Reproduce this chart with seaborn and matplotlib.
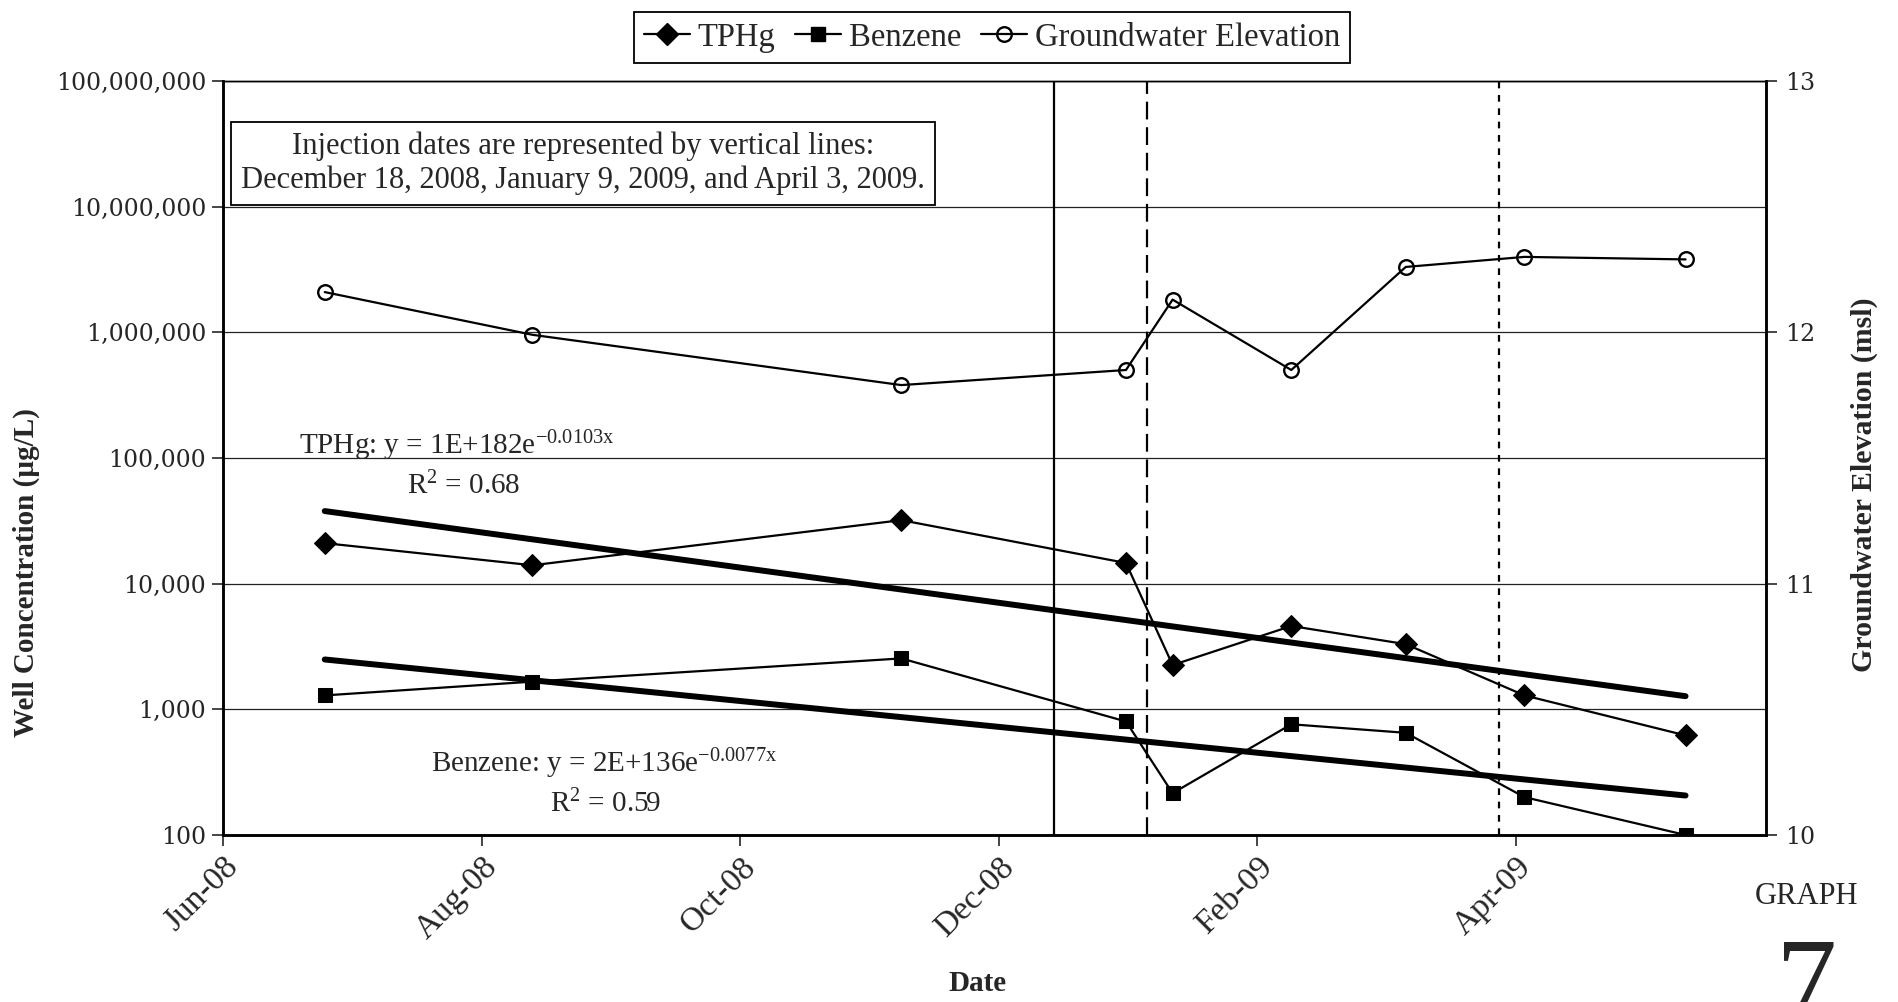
import numpy as np
import pandas as pd
import matplotlib
matplotlib.use("Agg")
import matplotlib.pyplot as plt
import matplotlib.dates as mdates
from matplotlib.lines import Line2D
from matplotlib.ticker import FuncFormatter, FixedLocator, NullLocator
from matplotlib.transforms import ScaledTranslation
import seaborn as sns

# ---------------- data ----------------
sample_dates = ["2008-06-26", "2008-08-14", "2008-11-09", "2009-01-01", "2009-01-12",
                "2009-02-09", "2009-03-08", "2009-04-05", "2009-05-13"]
tphg = [21000, 14000, 32000, 14600, 2250, 4600, 3300, 1290, 620]
benzene = [1290, 1660, 2540, 800, 215, 760, 650, 200, 100]
gw_elev = [12.16, 11.99, 11.79, 11.85, 12.13, 11.85, 12.26, 12.30, 12.29]

injection_lines = ["2008-12-15", "2009-01-06", "2009-03-30"]
injection_styles = ["solid", "dashed", "dotted"]

series_labels = ["TPHg", "Benzene", "Groundwater Elevation"]
left_ticks = [100, 1000, 10000, 100000, 1000000, 10000000, 100000000]
right_ticks = [10, 11, 12, 13]
x_tick_start = "2008-06-02"
x_tick_step_days = 61
x_tick_count = 6
x_end = "2009-06-01"

note_text = ("Injection dates are represented by vertical lines:\n"
             "December 18, 2008, January 9, 2009, and April 3, 2009.")
tphg_eq = "TPHg: y = 1E+182e$^{\\mathrm{-0.0103x}}$"
tphg_r2 = "R$^{\\mathrm{2}}$ = 0.68"
benz_eq = "Benzene: y = 2E+136e$^{\\mathrm{-0.0077x}}$"
benz_r2 = "R$^{\\mathrm{2}}$ = 0.59"

# ---------------- style ----------------
sns.set_style("white")
plt.rcParams['font.family'] = ['Liberation Serif', 'DejaVu Serif']
plt.rcParams['mathtext.fontset'] = 'custom'
plt.rcParams['mathtext.rm'] = 'Liberation Serif'
plt.rcParams['mathtext.it'] = 'Liberation Serif:italic'
plt.rcParams['axes.edgecolor'] = 'black'

fig = plt.figure(figsize=(18.98, 10.02), dpi=100)
ax = fig.add_axes([0.1175, 0.1667, 0.8130, 0.7525])
ax2 = ax.twinx()

df = pd.DataFrame({"date": pd.to_datetime(sample_dates),
                   "TPHg": tphg, "Benzene": benzene, "GW": gw_elev})

# trend lines (exponential fit, as Excel trendline)
days = (df["date"] - df["date"].iloc[0]).dt.days.values.astype(float)
for col in ["TPHg", "Benzene"]:
    k, b = np.polyfit(days, np.log(df[col].values), 1)
    trend = np.exp(b + k * days)
    sns.lineplot(x=df["date"], y=trend, ax=ax, color="black", lw=4.3,
                 solid_capstyle="round", legend=False, zorder=3)

sns.lineplot(data=df, x="date", y="TPHg", ax=ax, color="black", lw=1.6,
             marker="D", markersize=11, markeredgecolor="black",
             markerfacecolor="black", legend=False, zorder=4)
sns.lineplot(data=df, x="date", y="Benzene", ax=ax, color="black", lw=1.6,
             marker="s", markersize=10.5, markeredgecolor="black",
             markerfacecolor="black", legend=False, zorder=4)
sns.lineplot(data=df, x="date", y="GW", ax=ax2, color="black", lw=1.6,
             marker="o", markersize=10.5, markeredgecolor="black",
             markerfacecolor="none", markeredgewidth=1.7, legend=False, zorder=4)

# injection lines
ls_map = {"solid": "-", "dashed": (0, (8, 3.5)), "dotted": (0, (3, 3))}
for d, s in zip(injection_lines, injection_styles):
    ax.axvline(pd.Timestamp(d), color="black", lw=1.6, ls=ls_map[s], zorder=2)

# axes scales / ticks
ax.set_yscale("log")
ax.set_ylim(left_ticks[0], left_ticks[-1])
ax.yaxis.set_major_locator(FixedLocator(left_ticks))
ax.yaxis.set_minor_locator(NullLocator())
ax.yaxis.set_major_formatter(FuncFormatter(lambda v, p: f"{int(round(v)):,}"))
ax.yaxis.grid(True, color="#222222", lw=0.9)
ax.xaxis.grid(False)

xt = pd.date_range(x_tick_start, periods=x_tick_count, freq=f"{x_tick_step_days}D")
ax.set_xlim(mdates.date2num(pd.Timestamp(x_tick_start)), mdates.date2num(pd.Timestamp(x_end)))
ax.set_xticks(mdates.date2num(xt))
ax.set_xticklabels([d.strftime("%b-%y") for d in xt], rotation=45, ha="right",
                   va="top", rotation_mode="anchor", fontsize=24)
for lab in ax.get_xticklabels():
    lab.set_transform(lab.get_transform() + ScaledTranslation(0.16, -0.13, fig.dpi_scale_trans))

ax.tick_params(axis="y", which="major", direction="out", length=8, width=1.2,
               labelsize=17, labelfontfamily="DejaVu Serif", left=True, pad=4)
ax.tick_params(axis="x", which="major", direction="out", length=8, width=1.2,
               bottom=True, pad=4)

ax2.set_ylim(right_ticks[0], right_ticks[-1])
ax2.yaxis.set_major_locator(FixedLocator(right_ticks))
ax2.yaxis.set_major_formatter(FuncFormatter(lambda v, p: f"{int(round(v))}"))
ax2.tick_params(axis="y", direction="out", length=8, width=1.2, labelsize=17,
                labelfontfamily="DejaVu Serif", right=True, pad=6)
ax2.grid(False)

for a in (ax, ax2):
    for side in ["left", "right", "bottom"]:
        a.spines[side].set_linewidth(1.8)
        a.spines[side].set_color("black")
    a.spines["top"].set_linewidth(1.0)

# axis titles
ax.set_xlabel("Date", fontsize=21, fontweight="bold", va="center")
ax.xaxis.set_label_coords(0.4887, -0.1976)
ax.set_ylabel("Well Concentration (µg/L)", fontsize=21, fontweight="bold", va="center")
ax.yaxis.set_label_coords(-0.1277, 0.348)
ax2.set_ylabel("Groundwater Elevation (msl)", fontsize=21.5, fontweight="bold",
               va="center", rotation=90)
ax2.yaxis.set_label_coords(1.0635, 0.465)

# annotations
ax.text(0.2333, 0.8906, note_text, transform=ax.transAxes, ha="center", va="center",
        fontsize=22, linespacing=1.2, zorder=6,
        bbox=dict(boxstyle="square,pad=0.33", fc="white", ec="black", lw=1.3))
ax.text(0.1517, 0.516, tphg_eq, transform=ax.transAxes, ha="center", va="center", fontsize=21)
ax.text(0.1562, 0.463, tphg_r2, transform=ax.transAxes, ha="center", va="center", fontsize=21)
ax.text(0.2473, 0.0945, benz_eq, transform=ax.transAxes, ha="center", va="center", fontsize=21)
ax.text(0.2476, 0.0414, benz_r2, transform=ax.transAxes, ha="center", va="center", fontsize=21)

fig.text(0.952, 0.105, "GRAPH", ha="center", va="center", fontsize=22)
fig.text(0.952, 0.066, "7", ha="center", va="top", fontsize=88)

# legend
handles = [
    Line2D([], [], color="black", lw=1.6, marker="D", ms=11, mfc="black", mec="black"),
    Line2D([], [], color="black", lw=1.6, marker="s", ms=10.5, mfc="black", mec="black"),
    Line2D([], [], color="black", lw=1.6, marker="o", ms=10.5, mfc="none", mec="black", mew=1.7),
]
leg = fig.legend(handles, series_labels, loc="center", bbox_to_anchor=(992 / 1898, 0.9626),
                 ncol=3, frameon=True, fancybox=False, framealpha=1, edgecolor="black",
                 fontsize=23.5, handlelength=1.4, handletextpad=0.25, columnspacing=0.6,
                 borderpad=0.3, borderaxespad=0)
leg.get_frame().set_linewidth(1.3)

fig.savefig("out.png", dpi=100, facecolor="white")
